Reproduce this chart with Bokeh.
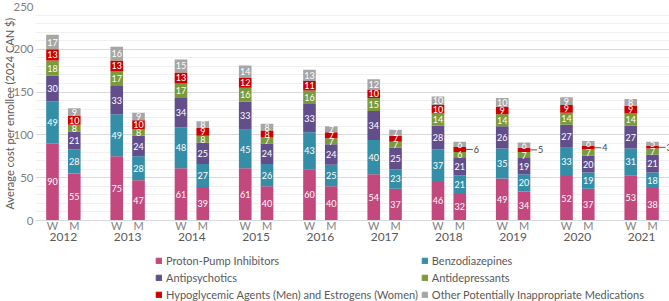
from bokeh.plotting import figure
from bokeh.layouts import column
from bokeh.models import (ColumnDataSource, FactorRange, Range1d, Legend, LegendItem,
                          SingleIntervalTicker)
from bokeh.core.properties import value
from bokeh.embed import file_html
from bokeh.resources import INLINE

# ---- data: average cost per enrollee (2024 CAN $) ----
years = ["2012", "2013", "2014", "2015", "2016", "2017", "2018", "2019", "2020", "2021"]
sexes = ["W", "M"]

ppi_w = [90, 75, 61, 61, 60, 54, 46, 49, 52, 53]
ppi_m = [55, 47, 39, 40, 40, 37, 32, 34, 37, 38]
benzo_w = [49, 49, 48, 45, 43, 40, 37, 35, 33, 31]
benzo_m = [28, 28, 27, 26, 25, 23, 21, 20, 19, 18]
antipsy_w = [30, 33, 34, 33, 33, 34, 28, 26, 27, 27]
antipsy_m = [21, 24, 25, 24, 24, 25, 21, 19, 20, 21]
antidep_w = [18, 17, 17, 16, 16, 15, 14, 14, 14, 14]
antidep_m = [8, 8, 8, 7, 7, 7, 6, 7, 7, 7]
hypo_w = [13, 13, 13, 12, 11, 10, 10, 9, 9, 9]
hypo_m = [10, 10, 9, 8, 7, 7, 6, 5, 4, 3]
other_w = [17, 16, 15, 14, 13, 12, 10, 10, 9, 8]
other_m = [9, 9, 8, 8, 7, 7, 6, 6, 6, 5]

series_names = [
    "Proton-Pump Inhibitors",
    "Benzodiazepines",
    "Antipsychotics",
    "Antidepressants",
    "Hypoglycemic Agents (Men) and Estrogens (Women)",
    "Other Potentially Inappropriate Medications",
]
series_w = [ppi_w, benzo_w, antipsy_w, antidep_w, hypo_w, other_w]
series_m = [ppi_m, benzo_m, antipsy_m, antidep_m, hypo_m, other_m]
colors = ["#C2487D", "#358EA8", "#634E8C", "#7A9A3B", "#CC0000", "#A6A6A6"]

# years whose small hypoglycemic/estrogen value (men) is labelled beside the bar
callout_years = ["2018", "2019", "2020", "2021"]

FONT = "Lato"
TEXT_GRAY = "#595959"

factors = [(y, s) for y in years for s in sexes]
keys = [f"s{i}" for i in range(len(series_names))]

data = {"x": factors}
for k, w, m in zip(keys, series_w, series_m):
    data[k] = [v for pair in zip(w, m) for v in pair]
src = ColumnDataSource(data)

p = figure(
    x_range=FactorRange(*factors, group_padding=0.95, factor_padding=0.0,
                        range_padding=0.28, range_padding_units="absolute"),
    y_range=Range1d(0, 250),
    width=669, height=253,
    output_backend="svg", toolbar_location=None,
    min_border_left=0, min_border_right=0, min_border_top=6, min_border_bottom=33,
)
p.outline_line_color = None
p.background_fill_color = "white"
p.border_fill_color = "white"

bar_width = 0.58
renderers = p.vbar_stack(keys, x="x", width=bar_width, color=colors, line_color=None, source=src)

# ---- segment value labels ----
lx, ly, lt = [], [], []
ox, oy, ot = [], [], []
seg_x0, seg_x1, seg_y = [], [], []
for i, f in enumerate(factors):
    base = 0
    for si, k in enumerate(keys):
        v = data[k][i]
        mid = base + v / 2
        if si == 4 and f[1] == "M" and f[0] in callout_years:
            seg_x0.append((f[0], f[1], bar_width / 2))
            seg_x1.append((f[0], f[1], bar_width / 2 + 0.31))
            seg_y.append(mid)
            ox.append((f[0], f[1], bar_width / 2 + 0.35))
            oy.append(mid)
            ot.append(str(v))
        else:
            lx.append(f)
            ly.append(mid)
            lt.append(str(v))
        base += v

p.text(x=lx, y=ly, text=lt, text_color="white", text_font=value(FONT),
       text_font_size="9px", text_align="center", text_baseline="middle")
p.segment(x0=seg_x0, y0=seg_y, x1=seg_x1, y1=seg_y, line_color="#595959", line_width=1)
p.text(x=ox, y=oy, text=ot, text_color="#404040", text_font=value(FONT),
       text_font_size="9px", text_align="left", text_baseline="middle")

# ---- axes & grid ----
p.yaxis.ticker = SingleIntervalTicker(interval=50, num_minor_ticks=5)
p.yaxis.axis_label = "Average cost per enrollee (2024 CAN $)"
p.yaxis.axis_label_text_font = FONT
p.yaxis.axis_label_text_font_size = "11px"
p.yaxis.axis_label_text_font_style = "normal"
p.yaxis.axis_label_text_color = TEXT_GRAY
p.yaxis.axis_label_standoff = -6
p.yaxis.major_label_text_font = FONT
p.yaxis.major_label_text_font_size = "11.5px"
p.yaxis.major_label_text_color = "#7f7f7f"
p.yaxis.major_label_standoff = 2
p.yaxis.axis_line_color = None
p.yaxis.major_tick_line_color = None
p.yaxis.minor_tick_line_color = None
p.yaxis.major_tick_out = 0
p.yaxis.minor_tick_out = 0

p.ygrid.grid_line_color = "#d9d9d9"
p.ygrid.minor_grid_line_color = "#f0f0f0"
p.xgrid.grid_line_color = None

p.xaxis.axis_line_color = "#d9d9d9"
p.xaxis.major_tick_line_color = None
p.xaxis.minor_tick_line_color = None
p.xaxis.major_tick_out = 0
p.xaxis.minor_tick_out = 0
p.xaxis.major_label_text_font = FONT
p.xaxis.major_label_text_font_size = "11px"
p.xaxis.major_label_text_color = "#7f7f7f"
p.xaxis.major_label_standoff = -2
p.xaxis.group_text_font = FONT
p.xaxis.group_text_font_size = "12px"
p.xaxis.group_text_font_style = "normal"
p.xaxis.group_text_color = TEXT_GRAY
p.xaxis.separator_line_alpha = 0

# ---- legend strip: two columns, three rows ----
leg = figure(
    width=669, height=48, x_range=Range1d(0, 669), y_range=Range1d(0, 48),
    output_backend="svg", toolbar_location=None,
    min_border=0, x_axis_type=None, y_axis_type=None,
)
leg.outline_line_color = None
leg.xgrid.visible = False
leg.ygrid.visible = False
# zero-height bars that only carry each series' swatch colour into the legend
swatches = [leg.vbar(x=[0], bottom=[0], top=[0], width=0, color=c) for c in colors]

order = [0, 2, 4, 1, 3, 5]
items = [LegendItem(label=series_names[i], renderers=[swatches[i]]) for i in order]
legend = Legend(
    items=items, orientation="vertical", nrows=3,
    location=(120, 0),
    glyph_width=7, glyph_height=7, label_standoff=4, label_width=244, label_height=14,
    spacing=3, padding=0, margin=0,
    label_text_font=FONT, label_text_font_size="11px", label_text_color=TEXT_GRAY,
    border_line_color=None, background_fill_alpha=0,
)
leg.add_layout(legend, "center")

open("out.html", "w").write(file_html(column(p, leg, spacing=0), INLINE))
